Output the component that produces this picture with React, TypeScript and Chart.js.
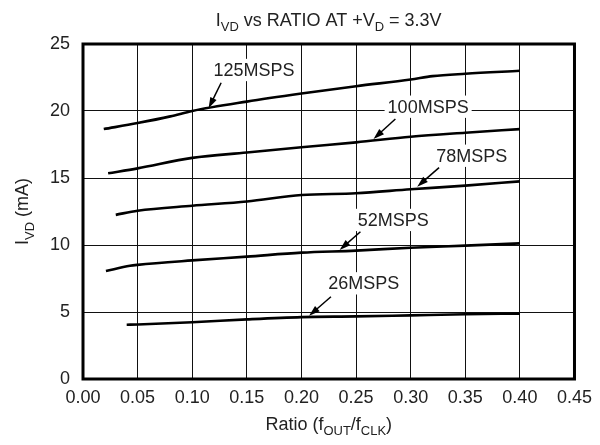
import React, { useEffect, useRef } from 'react';
import { Chart, registerables } from 'chart.js';
Chart.register(...registerables);

const X_TICKS = [0, 0.05, 0.1, 0.15, 0.2, 0.25, 0.3, 0.35, 0.4, 0.45];
const Y_TICKS = [0, 5, 10, 15, 20, 25];

const ratio125 = [0.019, 0.05, 0.08, 0.1, 0.15, 0.2, 0.25, 0.3, 0.32, 0.35, 0.4];
const ivd125 = [18.65, 19.1, 19.6, 20.0, 20.7, 21.3, 21.85, 22.35, 22.6, 22.78, 23.0];

const ratio100 = [0.023, 0.05, 0.1, 0.15, 0.2, 0.25, 0.3, 0.35, 0.4];
const ivd100 = [15.35, 15.72, 16.5, 16.9, 17.3, 17.66, 18.08, 18.38, 18.65];

const ratio78 = [0.03, 0.05, 0.1, 0.15, 0.2, 0.25, 0.3, 0.35, 0.4];
const ivd78 = [12.25, 12.56, 12.93, 13.25, 13.73, 13.86, 14.16, 14.43, 14.75];

const ratio52 = [0.021, 0.043, 0.05, 0.1, 0.15, 0.2, 0.25, 0.3, 0.35, 0.4];
const ivd52 = [8.06, 8.45, 8.52, 8.85, 9.13, 9.43, 9.58, 9.8, 9.95, 10.12];

const ratio26 = [0.04, 0.05, 0.1, 0.15, 0.2, 0.25, 0.3, 0.35, 0.4];
const ivd26 = [4.05, 4.07, 4.23, 4.45, 4.62, 4.67, 4.75, 4.83, 4.88];

const seriesNames = ['125MSPS', '100MSPS', '78MSPS', '52MSPS', '26MSPS'];
const seriesRatios = [ratio125, ratio100, ratio78, ratio52, ratio26];
const seriesValues = [ivd125, ivd100, ivd78, ivd52, ivd26];

// label centre (data units) and arrow from -> to (data units)
const labelX = [0.1566, 0.316, 0.356, 0.284, 0.257];
const labelY = [23.06, 20.32, 16.66, 11.87, 7.14];
const arrowFromX = [0.1265, 0.286, 0.326, 0.254, 0.227];
const arrowFromY = [22.11, 19.4, 15.77, 10.99, 6.14];
const arrowToX = [0.115, 0.266, 0.306, 0.235, 0.207];
const arrowToY = [20.2, 17.91, 14.35, 9.63, 4.72];

const FONT = '"Liberation Sans", Arial, Helvetica, sans-serif';
const TEXT = '#222';
const FS = 18;

type Part = { t: string; sub?: boolean };

function drawRich(ctx: CanvasRenderingContext2D, parts: Part[], x: number, y: number, size: number) {
  const widths = parts.map((p) => {
    ctx.font = `${p.sub ? size * 0.72 : size}px ${FONT}`;
    return ctx.measureText(p.t).width;
  });
  const total = widths.reduce((a, b) => a + b, 0);
  let cx = x - total / 2;
  ctx.textAlign = 'left';
  ctx.textBaseline = 'alphabetic';
  parts.forEach((p, i) => {
    ctx.font = `${p.sub ? size * 0.72 : size}px ${FONT}`;
    ctx.fillText(p.t, cx, p.sub ? y + size * 0.3 : y);
    cx += widths[i];
  });
}

const overlay = {
  id: 'overlay',
  afterDatasetsDraw(chart: any) {
    const { ctx, chartArea: a, scales } = chart;
    const xs = scales.x;
    const ys = scales.y;
    ctx.save();
    // annotations
    seriesNames.forEach((name, i) => {
      const lx = xs.getPixelForValue(labelX[i]);
      const ly = ys.getPixelForValue(labelY[i]);
      ctx.font = `${FS}px ${FONT}`;
      const w = ctx.measureText(name).width;
      ctx.fillStyle = '#fff';
      ctx.fillRect(lx - w / 2 - 3, ly - FS * 0.62, w + 6, FS * 1.24);
      ctx.fillStyle = TEXT;
      ctx.textAlign = 'center';
      ctx.textBaseline = 'middle';
      ctx.fillText(name, lx, ly + 1);
      const x1 = xs.getPixelForValue(arrowFromX[i]);
      const y1 = ys.getPixelForValue(arrowFromY[i]);
      const x2 = xs.getPixelForValue(arrowToX[i]);
      const y2 = ys.getPixelForValue(arrowToY[i]);
      const ang = Math.atan2(y2 - y1, x2 - x1);
      const hl = 11;
      const hw = 3.5;
      ctx.strokeStyle = '#000';
      ctx.lineWidth = 1.5;
      ctx.beginPath();
      ctx.moveTo(x1, y1);
      ctx.lineTo(x2 - Math.cos(ang) * hl * 0.8, y2 - Math.sin(ang) * hl * 0.8);
      ctx.stroke();
      ctx.fillStyle = '#000';
      ctx.beginPath();
      ctx.moveTo(x2, y2);
      ctx.lineTo(x2 - Math.cos(ang) * hl - Math.sin(ang) * hw, y2 - Math.sin(ang) * hl + Math.cos(ang) * hw);
      ctx.lineTo(x2 - Math.cos(ang) * hl + Math.sin(ang) * hw, y2 - Math.sin(ang) * hl - Math.cos(ang) * hw);
      ctx.closePath();
      ctx.fill();
    });
    // frame
    ctx.strokeStyle = '#000';
    ctx.lineWidth = 3;
    ctx.strokeRect(a.left, a.top, a.right - a.left, a.bottom - a.top);
    // titles
    ctx.fillStyle = TEXT;
    const cx = (a.left + a.right) / 2;
    drawRich(ctx, [
      { t: 'I' }, { t: 'VD', sub: true }, { t: ' vs RATIO AT +V' }, { t: 'D', sub: true }, { t: ' = 3.3V' },
    ], cx, 26, FS);
    drawRich(ctx, [
      { t: 'Ratio (f' }, { t: 'OUT', sub: true }, { t: '/f' }, { t: 'CLK', sub: true }, { t: ')' },
    ], cx, 430, FS);
    ctx.save();
    ctx.translate(22, (a.top + a.bottom) / 2);
    ctx.rotate(-Math.PI / 2);
    drawRich(ctx, [{ t: 'I' }, { t: 'VD', sub: true }, { t: ' (mA)' }], 0, FS * 0.36, FS);
    ctx.restore();
    ctx.restore();
  },
};

export default function App() {
  const ref = useRef<HTMLCanvasElement | null>(null);
  useEffect(() => {
    if (!ref.current) return;
    const chart = new Chart(ref.current, {
      type: 'line',
      data: {
        datasets: seriesNames.map((name, i) => ({
          label: name,
          data: seriesRatios[i].map((r, j) => ({ x: r, y: seriesValues[i][j] })),
          borderColor: '#000',
          borderWidth: 2.6,
          pointRadius: 0,
          fill: false,
          cubicInterpolationMode: 'monotone' as const,
        })),
      },
      options: {
        animation: false,
        responsive: false,
        layout: { padding: { left: 0, right: 20, top: 44, bottom: 0 } },
        plugins: { legend: { display: false }, title: { display: false }, tooltip: { enabled: false } },
        scales: {
          x: {
            type: 'linear',
            min: 0,
            max: 0.45,
            afterBuildTicks: (s: any) => { s.ticks = X_TICKS.map((v) => ({ value: v })); },
            afterFit: (s: any) => { s.height = 66; },
            ticks: {
              color: TEXT,
              font: { family: FONT, size: FS },
              padding: 8,
              maxRotation: 0,
              autoSkip: false,
              callback: (v: any) => Number(v).toFixed(2),
            },
            grid: { color: '#111', lineWidth: 1, drawTicks: false },
            border: { display: false },
          },
          y: {
            type: 'linear',
            min: 0,
            max: 25,
            afterBuildTicks: (s: any) => { s.ticks = Y_TICKS.map((v) => ({ value: v })); },
            afterFit: (s: any) => { s.width = 83; },
            ticks: {
              color: TEXT,
              font: { family: FONT, size: FS },
              padding: 13,
              autoSkip: false,
            },
            grid: { color: '#111', lineWidth: 1, drawTicks: false },
            border: { display: false },
          },
        },
      },
      plugins: [overlay],
    });
    return () => chart.destroy();
  }, []);
  return (
    <div style={{ position: 'fixed', left: 0, top: 0, width: 600, height: 445, background: '#fff' }}>
      <canvas ref={ref} width={600} height={445} />
    </div>
  );
}
